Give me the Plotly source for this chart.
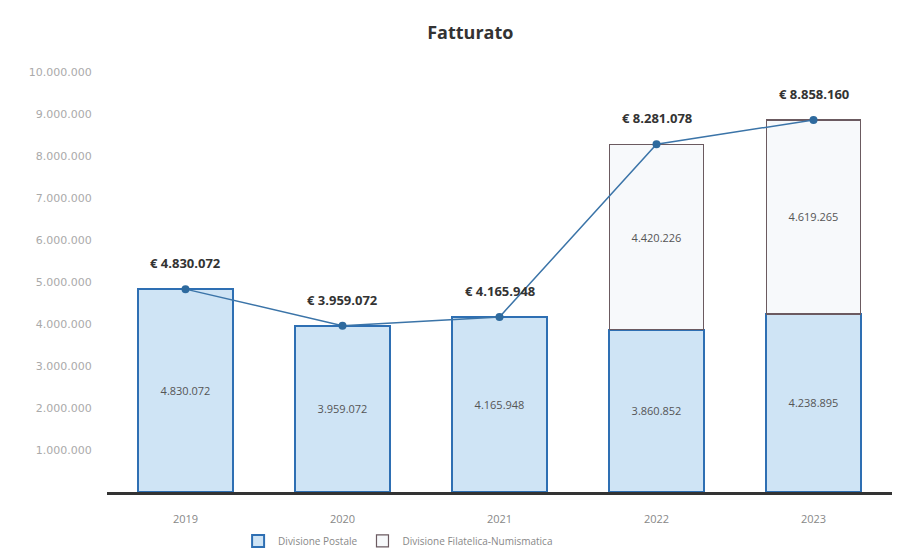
import plotly.graph_objects as go

years = ["2019", "2020", "2021", "2022", "2023"]
postale = [4830072, 3959072, 4165948, 3860852, 4238895]
filatelica = [None, None, None, 4420226, 4619265]
totale = [4830072, 3959072, 4165948, 8281078, 8858160]
y_ticks = [1000000, 2000000, 3000000, 4000000, 5000000, 6000000, 7000000, 8000000, 9000000, 10000000]

def fmt(v):
    return f"{v:,}".replace(",", ".")

fig = go.Figure()
fig.add_trace(go.Bar(
    x=years, y=postale, name="Divisione Postale",
    marker=dict(color="#cfe4f5", line=dict(color="#2e6fb3", width=2)),
    text=[fmt(v) for v in postale], textposition="inside", insidetextanchor="middle",
    textfont=dict(size=11, color="#555555"), width=0.6,
))
fig.add_trace(go.Bar(
    x=years, y=filatelica, name="Divisione Filatelica-Numismatica",
    marker=dict(color="#f7f9fb", line=dict(color="#6b5a60", width=1.2)),
    text=[fmt(v) if v else "" for v in filatelica], textposition="inside", insidetextanchor="middle",
    textfont=dict(size=11, color="#555555"), width=0.6,
))
fig.add_trace(go.Scatter(
    x=years, y=totale, mode="lines+markers", showlegend=False,
    line=dict(color="#3b74a8", width=1.5),
    marker=dict(color="#2e6a9e", size=8),
))
for i, v in enumerate(totale):
    fig.add_annotation(x=i, y=v, xref="x", yref="y", text="<b>€ " + fmt(v) + "</b>",
                       showarrow=False, yshift=26,
                       font=dict(size=13, color="#333333"))

fig.update_layout(
    barmode="stack",
    width=884, height=541,
    paper_bgcolor="white", plot_bgcolor="white",
    font=dict(family="Open Sans, sans-serif", color="#555555"),
    title=dict(text="<b>Fatturato</b>", x=0.523, y=0.954, xanchor="center", yanchor="middle",
               font=dict(size=18, color="#333333")),
    margin=dict(l=99, r=0, t=64, b=57),
    separators=",.",
    xaxis=dict(type="category", showgrid=False, showline=True, linecolor="#333333", linewidth=3,
               tickfont=dict(size=11, color="#888888"), ticks="outside", ticklen=15,
               tickcolor="rgba(0,0,0,0)"),
    yaxis=dict(range=[0, 10000000], tickvals=y_ticks, tickformat=",d",
               showgrid=False, zeroline=False, showline=False,
               tickfont=dict(family="DejaVu Sans, sans-serif", size=11, color="#aaaaaa"),
               ticks="outside", ticklen=12, tickcolor="rgba(0,0,0,0)"),
    legend=dict(orientation="h", x=0.167, xanchor="left", yref="container", y=0.015,
                yanchor="middle", traceorder="normal",
                font=dict(size=10, color="#888888")),
)

fig.write_html("out.html")
